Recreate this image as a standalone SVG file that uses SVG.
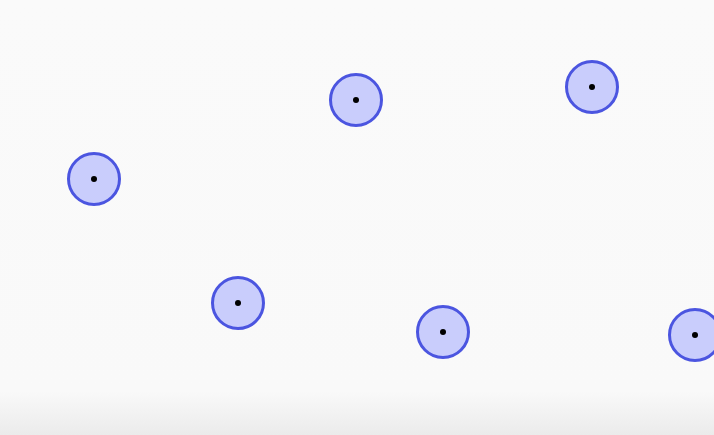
<svg xmlns="http://www.w3.org/2000/svg" width="714" height="435" viewBox="0 0 714 435">
<style>
.node circle.ring{fill:#c9cdfc;stroke:#4b55e0;stroke-width:3}
.node circle.dot{fill:#000}
</style>
<defs>
<linearGradient id="bg" x1="0" y1="0" x2="0" y2="1">
<stop offset="0" stop-color="#fafafa"/>
<stop offset="0.9" stop-color="#f9f9f9"/>
<stop offset="1" stop-color="#ebebeb"/>
</linearGradient>
</defs>
<rect width="714" height="435" fill="url(#bg)"/>
<g id="connectors"></g>
<g id="n1" class="node"><circle class="ring" cx="94" cy="179" r="25.5"/><circle class="dot" cx="94" cy="179" r="3"/></g>
<g id="n2" class="node"><circle class="ring" cx="356" cy="100" r="25.5"/><circle class="dot" cx="356" cy="100" r="3"/></g>
<g id="n3" class="node"><circle class="ring" cx="592" cy="87" r="25.5"/><circle class="dot" cx="592" cy="87" r="3"/></g>
<g id="n4" class="node"><circle class="ring" cx="238" cy="303" r="25.5"/><circle class="dot" cx="238" cy="303" r="3"/></g>
<g id="n5" class="node"><circle class="ring" cx="443" cy="332" r="25.5"/><circle class="dot" cx="443" cy="332" r="3"/></g>
<g id="n6" class="node"><circle class="ring" cx="695" cy="335" r="25.5"/><circle class="dot" cx="695" cy="335" r="3"/></g>
</svg>
